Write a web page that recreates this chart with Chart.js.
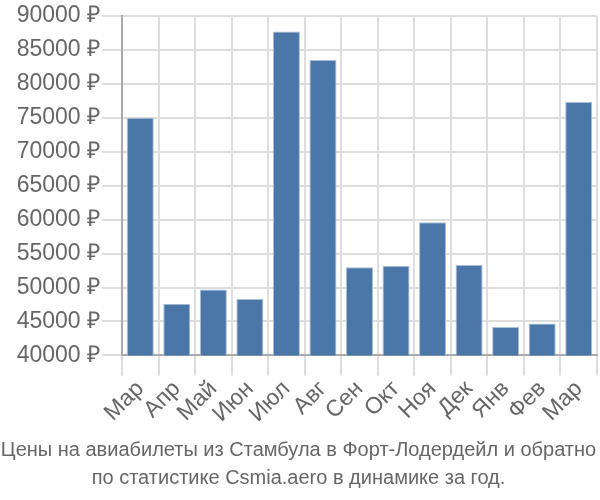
<!DOCTYPE html>
<html>
<head>
<meta charset="utf-8">
<script src="https://cdn.jsdelivr.net/npm/chart.js@4"></script>
<style>
html,body{margin:0;padding:0;background:#fff;}
#wrap{width:600px;height:500px;position:relative;}
</style>
</head>
<body>
<div id="wrap"><canvas id="c" width="600" height="500"></canvas></div>
<script>
const categories = ["Мар","Апр","Май","Июн","Июл","Авг","Сен","Окт","Ноя","Дек","Янв","Фев","Мар"];
const prices = [75000, 47600, 49700, 48300, 87700, 83500, 53000, 53200, 59600, 53300, 44200, 44700, 77300];
const titleLines = ["Цены на авиабилеты из Стамбула в Форт-Лодердейл и обратно", "по статистике Csmia.aero в динамике за год."];
const yMin = 40000, yMax = 90000, yStep = 5000;

new Chart(document.getElementById('c'), {
  type: 'bar',
  data: {
    labels: categories,
    datasets: [{
      data: prices,
      backgroundColor: '#4a76a8',
      borderColor: '#a9bfd9',
      borderWidth: 1,
      categoryPercentage: 0.74,
      barPercentage: 1.0
    }]
  },
  options: {
    responsive: false,
    animation: false,
    devicePixelRatio: 1,
    layout: {padding: {left: 0, right: 3, top: 4, bottom: 0}},
    plugins: {
      legend: {display: false},
      tooltip: {enabled: false},
      title: {
        display: true,
        position: 'bottom',
        text: titleLines,
        color: '#666',
        font: {family: 'Liberation Sans', size: 20, weight: 'normal', lineHeight: 1.4},
        padding: {top: 8, bottom: 8}
      }
    },
    scales: {
      x: {
        grid: {color: '#dddddd', lineWidth: 2, offset: true, drawTicks: true, tickLength: 20},
        border: {color: '#aaaaaa', width: 2},
        ticks: {
          color: '#666',
          font: {family: 'Liberation Sans', size: 23},
          maxRotation: 45, minRotation: 45,
          autoSkip: false,
          padding: 0
        }
      },
      y: {
        min: yMin, max: yMax,
        afterFit: s => { s.width = 122; },
        grid: {color: '#dddddd', lineWidth: 2, tickLength: 20},
        border: {color: '#aaaaaa', width: 2},
        ticks: {
          stepSize: yStep,
          color: '#666',
          font: {family: 'Liberation Sans', size: 23},
          padding: 2,
          callback: v => v + ' ₽'
        }
      }
    }
  }
});
</script>
</body>
</html>
